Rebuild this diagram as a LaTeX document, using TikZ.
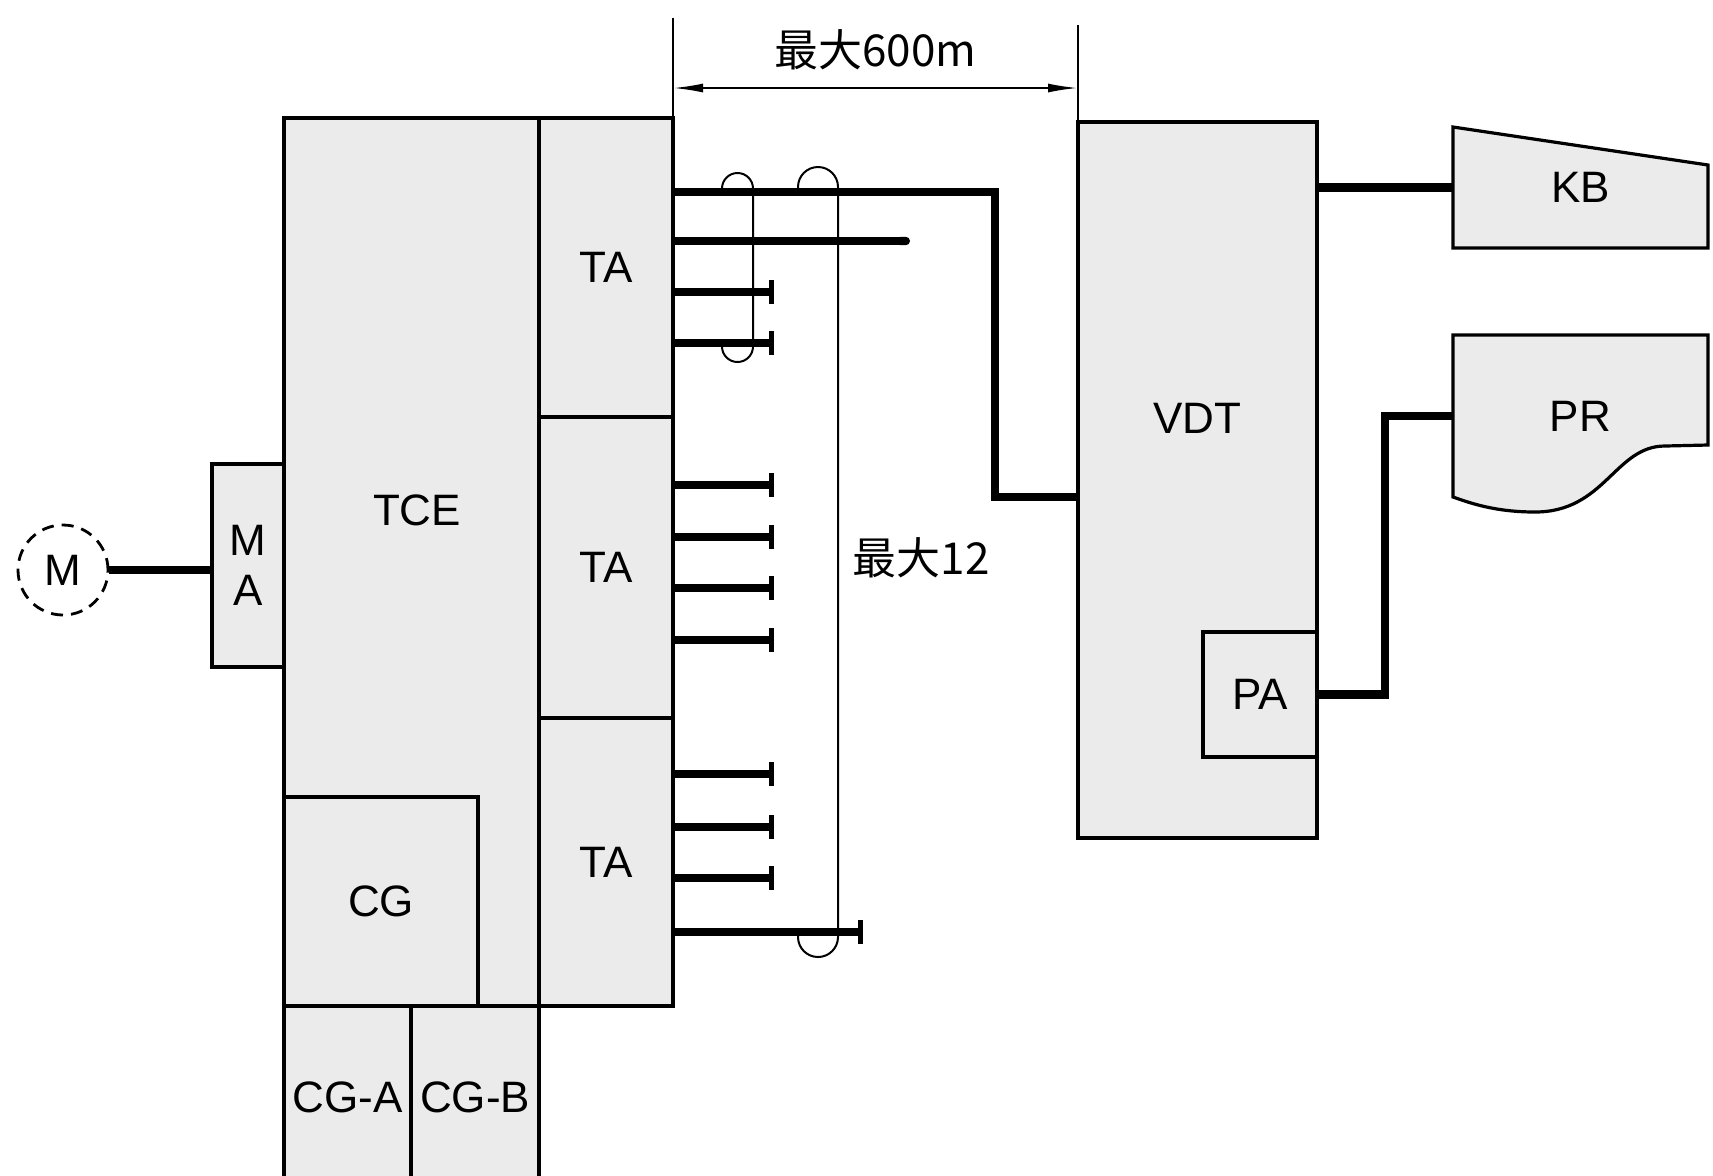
\documentclass[tikz,border=0pt]{standalone}
\usepackage{fontspec}
\setmainfont{Liberation Sans}
\newfontfamily\cjk{Noto Sans CJK JP}
\usepackage{xcolor}
\usepackage{tikz}
\usetikzlibrary{arrows.meta,positioning,calc,backgrounds}
\definecolor{boxgray}{gray}{0.92}

\begin{document}
\begin{tikzpicture}[x=0.5pt, y=-0.5pt, every node/.style={font=\fontsize{22}{25}\selectfont}, unit/.style={draw, line width=1.6pt, fill=boxgray, inner sep=0pt, outer sep=0pt, anchor=north west}, shell/.style={inner sep=0pt, outer sep=0pt, anchor=north west}, cable/.style={line width=4.2pt}, stub/.style={cable, -{Bar[width=12pt, line width=2.5pt]}}, wire/.style={line width=1pt}, dimarr/.style={wire, {Latex[length=15pt, width=4.5pt]}-{Latex[length=15pt, width=4.5pt]}}]
\useasboundingbox (0,0) rectangle (1713,1175);
\clip (0,0) rectangle (1713,1175);
% left cabinet
\node[unit, minimum width=127.5pt, minimum height=444pt] (tce) at (284,118) {};
\node (tcetext) at (417,510) {TCE};
\node[unit, minimum width=97pt, minimum height=104.5pt] (cg) at (284,797) {CG};
\node[unit, minimum width=67pt, minimum height=149.5pt] (ta1) at (539,118) {TA};
\node[unit, minimum width=67pt, minimum height=150.5pt, below=0pt of ta1] (ta2) {TA};
\node[unit, minimum width=67pt, minimum height=144pt, below=0pt of ta2] (ta3) {TA};
\node[unit, minimum width=36pt, minimum height=101.5pt, align=center] (ma) at (212,464) {M\\A};
\node[unit, minimum width=63.5pt, minimum height=91.5pt] (cga) at (284,1006) {CG-A};
\node[unit, minimum width=64pt, minimum height=91.5pt, right=0pt of cga] (cgb) {CG-B};
\node[draw, circle, line width=1.4pt, dash pattern=on 6pt off 4pt, minimum size=45pt, inner sep=0pt] (m) at (63,570) {M};
% terminal side
\node[unit, minimum width=119.5pt, minimum height=358pt] (vdt) at (1078,122) {};
\node (vdttext) at (1197,418) {VDT};
\node[unit, minimum width=57pt, minimum height=62.5pt, anchor=north east] (pa) at (vdt.east |- 0,632) {PA};
\node[shell, minimum width=127.5pt, minimum height=60.5pt] (kb) at (1453,127) {KB};
\node[shell, minimum width=127.5pt, minimum height=81pt] (pr) at (1453,335) {PR};
\begin{scope}[on background layer]
\draw[line width=1.6pt, fill=boxgray] (kb.north west) -- ($(kb.north east)+(0,38)$) -- (kb.south east) -- (kb.south west) -- cycle;
\draw[line width=1.6pt, fill=boxgray] (pr.south west) -- (pr.north west) -- (pr.north east) -- (1708,445) -- (1665,446) .. controls (1615,446) and (1605,512) .. (1535,512) .. controls (1495,512) and (1470,503) .. cycle;
\end{scope}
% cables
\draw[cable] (m.east) -- (ma.west |- m.east);
\draw[cable] (ta1.east |- 0,192) -- ++(322,0) |- (vdt.west |- 0,497);
\draw[cable, -{Round Cap[]}] (ta1.east |- 0,241) -- ++(237,0);
\foreach \y in {292,343} \draw[stub] (ta1.east |- 0,\y) -- ++(101,0);
\foreach \y in {485,537,588,640} \draw[stub] (ta2.east |- 0,\y) -- ++(101,0);
\foreach \y in {774,827,878} \draw[stub] (ta3.east |- 0,\y) -- ++(101,0);
\draw[stub] (ta3.east |- 0,932) -- ++(190,0);
\draw[cable] (vdt.east |- kb.west) -- (kb.west);
\draw[cable] (pa.east) -- ++(68,0) |- (pr.west);
% bundles
\draw[wire, rounded corners=7.75pt] (722,192) -- (722,173) -- (753,173) -- (753,362) -- (722,362) -- (722,343);
\draw[wire, rounded corners=10pt] (798,192) -- (798,167) -- (838,167) -- (838,957) -- (798,957) -- (798,932);
\node (maxtext) at (921,558) {\cjk{最大}12};
% distance
\draw[wire] (ta1.north east) -- ++(0,-100);
\draw[wire] (vdt.north west) -- ++(0,-97);
\draw[dimarr] (ta1.east |- 0,88) -- node[yshift=19pt] (disttext) {\cjk{最大}600m} (vdt.west |- 0,88);
\end{tikzpicture}
\end{document}
